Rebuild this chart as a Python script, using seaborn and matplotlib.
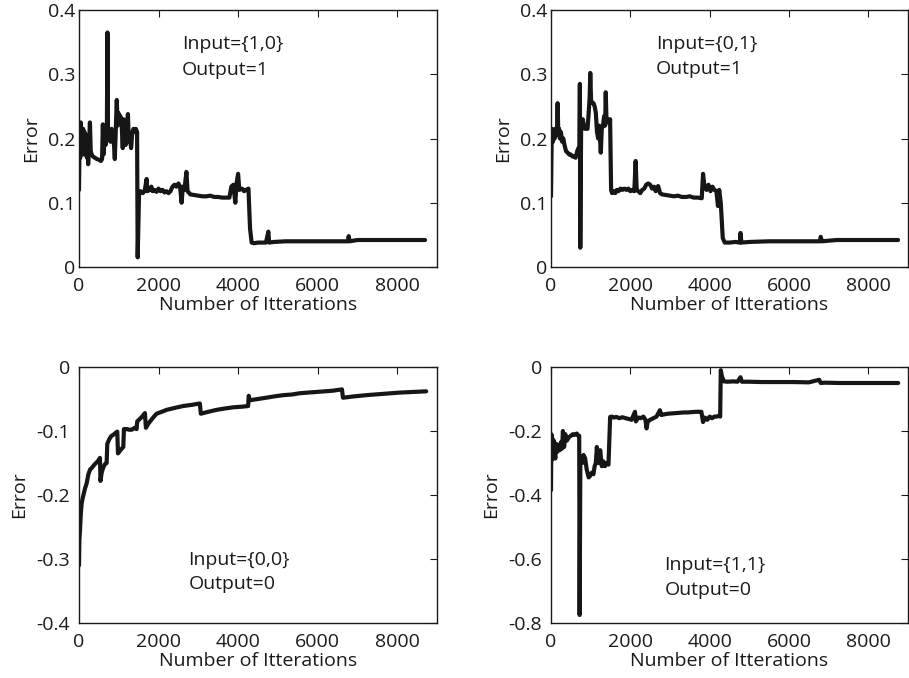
import matplotlib
matplotlib.use("Agg")
import matplotlib.pyplot as plt
import seaborn as sns
import pandas as pd
from matplotlib.ticker import FixedLocator, FuncFormatter

# ---------------- data ----------------
x_ticks = [0, 2000, 4000, 6000, 8000]
x_limit = [0, 9000]

# Panel A: Input={1,0}, Output=1
a_x = [0, 15, 30, 45, 60, 75, 90, 105, 120, 140,
       160, 180, 200, 215, 230, 250, 275, 295, 320, 350,
       400, 450, 500, 550, 580, 600, 615, 640, 670, 700,
       715, 730, 760, 790, 820, 850, 880, 900, 920, 950,
       970, 990, 1010, 1040, 1070, 1100, 1120, 1150, 1175, 1200,
       1230, 1250, 1280, 1310, 1340, 1370, 1400, 1430, 1460, 1475,
       1510, 1550, 1600, 1650, 1700, 1720, 1780, 1820, 1850, 1900,
       1950, 2000, 2050, 2100, 2150, 2200, 2250, 2300, 2350, 2400,
       2450, 2500, 2540, 2580, 2610, 2650, 2700, 2730, 2800, 2900,
       3000, 3100, 3200, 3300, 3400, 3500, 3600, 3700, 3780, 3830,
       3880, 3930, 3960, 4000, 4030, 4100, 4150, 4200, 4260, 4300,
       4340, 4400, 4500, 4600, 4700, 4760, 4780, 4900, 5200, 5600,
       6000, 6400, 6760, 6780, 6800, 7000, 7500, 8000, 8700]
a_y = [0.12, 0.20, 0.17, 0.225, 0.18, 0.21, 0.19, 0.215, 0.175, 0.21,
       0.185, 0.20, 0.17, 0.205, 0.16, 0.19, 0.225, 0.18, 0.175, 0.172,
       0.17, 0.168, 0.167, 0.165, 0.168, 0.222, 0.175, 0.20, 0.19, 0.205,
       0.365, 0.20, 0.205, 0.195, 0.215, 0.20, 0.19, 0.168, 0.205, 0.26,
       0.22, 0.24, 0.23, 0.235, 0.225, 0.185, 0.23, 0.225, 0.19, 0.21,
       0.238, 0.195, 0.20, 0.185, 0.21, 0.215, 0.21, 0.215, 0.21, 0.015,
       0.115, 0.118, 0.115, 0.118, 0.137, 0.118, 0.12, 0.125, 0.118, 0.12,
       0.117, 0.122, 0.118, 0.12, 0.116, 0.118, 0.115, 0.118, 0.125, 0.128,
       0.125, 0.13, 0.125, 0.10, 0.125, 0.12, 0.148, 0.118, 0.113, 0.112,
       0.111, 0.11, 0.11, 0.111, 0.109, 0.109, 0.108, 0.108, 0.108, 0.125,
       0.128, 0.10, 0.13, 0.145, 0.12, 0.122, 0.118, 0.12, 0.122, 0.06,
       0.038, 0.037, 0.038, 0.038, 0.038, 0.055, 0.038, 0.039, 0.04, 0.04,
       0.04, 0.04, 0.04, 0.048, 0.04, 0.042, 0.042, 0.042, 0.042]

# Panel B: Input={0,1}, Output=1
b_x = [0, 15, 30, 50, 70, 90, 110, 130, 150, 167,
       185, 205, 225, 250, 280, 310, 340, 380, 420, 460,
       500, 540, 580, 620, 660, 690, 715, 728, 738, 760,
       780, 800, 830, 860, 890, 920, 950, 975, 990, 1010,
       1040, 1070, 1100, 1130, 1160, 1190, 1215, 1240, 1255, 1280,
       1310, 1340, 1365, 1380, 1400, 1430, 1460, 1490, 1515, 1540,
       1580, 1620, 1660, 1700, 1750, 1800, 1850, 1900, 1950, 2000,
       2050, 2100, 2134, 2160, 2200, 2250, 2300, 2350, 2400, 2450,
       2500, 2550, 2600, 2640, 2700, 2750, 2800, 2900, 3000, 3100,
       3200, 3300, 3400, 3500, 3600, 3700, 3800, 3833, 3870, 3920,
       3970, 4020, 4070, 4120, 4170, 4209, 4240, 4280, 4330, 4380,
       4500, 4650, 4760, 4778, 4800, 5000, 5500, 6000, 6500, 6780,
       6800, 6830, 7200, 7800, 8300, 8750]
b_y = [0.11, 0.19, 0.215, 0.195, 0.21, 0.20, 0.215, 0.205, 0.21, 0.255,
       0.205, 0.215, 0.20, 0.21, 0.195, 0.20, 0.19, 0.18, 0.178, 0.175,
       0.175, 0.172, 0.172, 0.17, 0.18, 0.185, 0.175, 0.285, 0.03, 0.22,
       0.215, 0.23, 0.22, 0.215, 0.218, 0.215, 0.24, 0.265, 0.302, 0.26,
       0.255, 0.255, 0.25, 0.24, 0.21, 0.20, 0.22, 0.195, 0.178, 0.215,
       0.22, 0.235, 0.22, 0.272, 0.225, 0.23, 0.225, 0.23, 0.12, 0.115,
       0.118, 0.115, 0.12, 0.118, 0.122, 0.12, 0.122, 0.12, 0.122, 0.118,
       0.12, 0.118, 0.165, 0.12, 0.118, 0.115, 0.12, 0.122, 0.128, 0.13,
       0.128, 0.122, 0.125, 0.118, 0.126, 0.115, 0.113, 0.112, 0.111, 0.11,
       0.111, 0.109, 0.109, 0.11, 0.108, 0.108, 0.107, 0.145, 0.125, 0.12,
       0.128, 0.118, 0.125, 0.12, 0.118, 0.095, 0.12, 0.10, 0.045, 0.038,
       0.038, 0.039, 0.038, 0.053, 0.038, 0.039, 0.04, 0.04, 0.04, 0.04,
       0.047, 0.04, 0.042, 0.042, 0.042, 0.042]

# Panel C: Input={0,0}, Output=0
c_x = [0, 10, 25, 45, 67, 92, 120, 150, 192, 234,
       280, 318, 380, 444, 490, 527, 540, 570, 611, 650,
       695, 711, 760, 810, 862, 920, 962, 980, 1040, 1113,
       1130, 1200, 1260, 1322, 1400, 1448, 1464, 1515, 1580, 1657,
       1682, 1750, 1850, 1950, 2080, 2201, 2400, 2619, 2850, 3038,
       3063, 3250, 3456, 3650, 3874, 4100, 4251, 4268, 4290, 4500,
       4707, 4900, 5130, 5350, 5548, 5750, 5967, 6180, 6385, 6611,
       6636, 6900, 7222, 7640, 8059, 8400, 8728]
c_y = [-0.31, -0.27, -0.255, -0.23, -0.213, -0.205, -0.198, -0.19, -0.182, -0.168,
       -0.16, -0.158, -0.153, -0.149, -0.146, -0.142, -0.178, -0.165, -0.157, -0.152,
       -0.15, -0.12, -0.113, -0.108, -0.106, -0.103, -0.101, -0.135, -0.13, -0.125,
       -0.097, -0.097, -0.098, -0.098, -0.095, -0.097, -0.085, -0.082, -0.078, -0.072,
       -0.095, -0.088, -0.08, -0.073, -0.07, -0.067, -0.064, -0.061, -0.059, -0.057,
       -0.073, -0.07, -0.067, -0.065, -0.063, -0.062, -0.061, -0.045, -0.052, -0.05,
       -0.048, -0.046, -0.044, -0.043, -0.041, -0.04, -0.039, -0.038, -0.037, -0.035,
       -0.048, -0.046, -0.044, -0.042, -0.040, -0.039, -0.038]

# Panel D: Input={1,1}, Output=0
d_x = [0, 10, 25, 40, 55, 70, 90, 109, 130, 160,
       190, 220, 250, 280, 300, 330, 360, 400, 450, 500,
       550, 600, 650, 690, 711, 722, 740, 760, 790, 820,
       860, 900, 950, 987, 1030, 1070, 1100, 1130, 1156, 1180,
       1200, 1240, 1280, 1320, 1360, 1400, 1449, 1491, 1530, 1580,
       1650, 1720, 1800, 1880, 1950, 2030, 2117, 2140, 2200, 2260,
       2330, 2380, 2410, 2440, 2500, 2580, 2660, 2745, 2780, 2850,
       2950, 3050, 3150, 3250, 3350, 3450, 3550, 3650, 3750, 3791,
       3833, 3880, 3940, 4000, 4060, 4120, 4180, 4240, 4265, 4280,
       4310, 4360, 4450, 4600, 4700, 4778, 4810, 5000, 5300, 5700,
       6100, 6500, 6762, 6800, 6900, 7300, 7800, 8300, 8753]
d_y = [-0.385, -0.21, -0.29, -0.225, -0.275, -0.23, -0.27, -0.286, -0.24, -0.265,
       -0.245, -0.26, -0.235, -0.255, -0.20, -0.25, -0.21, -0.23, -0.22, -0.215,
       -0.21, -0.212, -0.208, -0.215, -0.215, -0.775, -0.28, -0.28, -0.30, -0.275,
       -0.285, -0.32, -0.345, -0.34, -0.33, -0.335, -0.31, -0.30, -0.25, -0.295,
       -0.30, -0.26, -0.31, -0.295, -0.31, -0.30, -0.305, -0.156, -0.155, -0.158,
       -0.156, -0.16, -0.157, -0.16, -0.162, -0.165, -0.14, -0.17, -0.158, -0.16,
       -0.155, -0.165, -0.192, -0.17, -0.165, -0.16, -0.155, -0.135, -0.15, -0.148,
       -0.146, -0.145, -0.144, -0.143, -0.142, -0.142, -0.141, -0.14, -0.14, -0.14,
       -0.172, -0.158, -0.165, -0.155, -0.16, -0.155, -0.155, -0.152, -0.155, -0.01,
       -0.03, -0.045, -0.046, -0.045, -0.046, -0.032, -0.046, -0.046, -0.047, -0.047,
       -0.047, -0.048, -0.04, -0.05, -0.049, -0.05, -0.05, -0.05, -0.05]

panels = [
    dict(x=a_x, y=a_y, ylim=[0, 0.4], yticks=[0, 0.1, 0.2, 0.3, 0.4],
         lines=["Input={1,0}", "Output=1"], tx=2580, ty=[0.3396, 0.2990]),
    dict(x=b_x, y=b_y, ylim=[0, 0.4], yticks=[0, 0.1, 0.2, 0.3, 0.4],
         lines=["Input={0,1}", "Output=1"], tx=2638, ty=[0.3396, 0.3000]),
    dict(x=c_x, y=c_y, ylim=[-0.4, 0], yticks=[-0.4, -0.3, -0.2, -0.1, 0],
         lines=["Input={0,0}", "Output=0"], tx=2747, ty=[-0.309, -0.347]),
    dict(x=d_x, y=d_y, ylim=[-0.8, 0], yticks=[-0.8, -0.6, -0.4, -0.2, 0],
         lines=["Input={1,1}", "Output=0"], tx=2864, ty=[-0.634, -0.712]),
]

# ---------------- styling ----------------
sns.set_theme(style="white")
plt.rcParams['font.family'] = ['Open Sans', 'DejaVu Sans']
plt.rcParams['axes.unicode_minus'] = False

FS = 14
fig = plt.figure(figsize=(9.09, 6.78), dpi=100)
boxes = [
    [79 / 909, 1 - 267 / 678, 358 / 909, 257 / 678],
    [551 / 909, 1 - 267 / 678, 357 / 909, 257 / 678],
    [79 / 909, 1 - 623 / 678, 358 / 909, 256 / 678],
    [551 / 909, 1 - 623 / 678, 357 / 909, 256 / 678],
]
ypads = [2.5, 2.5, 6.5, 6.5]

fmt = FuncFormatter(lambda v, p: ("%g" % round(v, 3)))

for box, p, yp in zip(boxes, panels, ypads):
    ax = fig.add_axes(box)
    df = pd.DataFrame({"iter": p["x"], "err": p["y"]})
    sns.lineplot(data=df, x="iter", y="err", ax=ax, color="#161616",
                 linewidth=3.0, estimator=None, sort=False)
    ax.set_xlim(x_limit)
    ax.set_ylim(p["ylim"])
    ax.xaxis.set_major_locator(FixedLocator(x_ticks))
    ax.yaxis.set_major_locator(FixedLocator(p["yticks"]))
    ax.xaxis.set_major_formatter(fmt)
    ax.yaxis.set_major_formatter(fmt)
    ax.tick_params(direction="in", length=5, width=0.8, top=True, right=True,
                   labelsize=FS, colors="#1a1a1a")
    ax.tick_params(axis="x", pad=7.5)
    ax.tick_params(axis="y", pad=yp)
    for s in ax.spines.values():
        s.set_color("#1a1a1a")
        s.set_linewidth(1.0)
        s.set_visible(True)
    ax.set_xlabel("Number of Itterations", fontsize=FS, labelpad=0.5, color="#1a1a1a")
    ax.set_ylabel("Error", fontsize=FS, labelpad=6, color="#1a1a1a")
    for line, ty in zip(p["lines"], p["ty"]):
        ax.text(p["tx"], ty, line, fontsize=FS, ha="left", va="baseline",
                color="#1a1a1a")

fig.savefig("out.png", dpi=100)
